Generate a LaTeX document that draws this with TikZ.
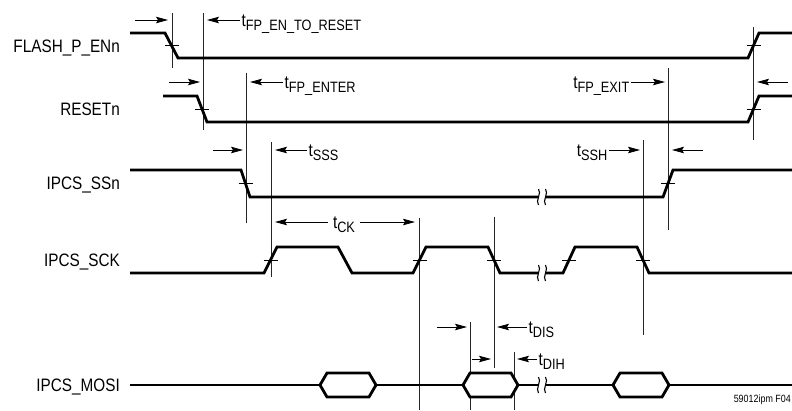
\documentclass[tikz,border=0pt]{standalone}
\usepackage{fontspec}
\setmainfont{Liberation Sans}[FakeStretch=0.85]
\usepackage{tikz}
\usetikzlibrary{arrows.meta,calc}

% t with a lowered subscript
\newcommand{\tsub}[1]{t\raisebox{-4pt}{\fontsize{15}{15}\selectfont #1}}
% hexagon data bubble on the MOSI line
\newcommand{\bubble}[3]{\draw[sig, fill=white] (#1,#3) -- (#1+7,#3-12) -- (#2-7,#3-12) -- (#2,#3) -- (#2-7,#3+12) -- (#1+7,#3+12) -- cycle;}
% break marks in a signal line
\newcommand{\sigbrk}[2]{%
  \fill[white] (#1-4,#2-3) rectangle (#1+4,#2+3);
  \draw[brk] (#1-3.5,#2-8) .. controls (#1,#2-4) and (#1-7,#2+4) .. (#1-3.5,#2+8);
  \draw[brk] (#1+3.5,#2-8) .. controls (#1+7,#2-4) and (#1,#2+4) .. (#1+3.5,#2+8);}

\begin{document}
\begin{tikzpicture}[x=1pt, y=-1pt,
    font=\fontsize{18}{18}\selectfont,
    sig/.style={line width=2.8pt, line join=miter},
    gline/.style={line width=0.8pt, black!85},
    midtick/.style={line width=0.8pt},
    brk/.style={line width=1.1pt},
    tarrow/.style={line width=0.8pt, -{Stealth[length=12pt, width=6.5pt, inset=2pt]}},
    tlbl/.style={inner xsep=1.5pt, inner ysep=0pt, text height=12pt, text depth=0pt},
    siglbl/.style={anchor=base east, inner sep=0pt}]
\useasboundingbox (0,0) rectangle (792,410);

% Signal names
\node[siglbl] (lFlash) at (120,52)  {FLASH\_P\_ENn};
\node[siglbl] (lReset) at (120,115) {RESETn};
\node[siglbl] (lSsn)   at (120,189) {IPCS\_SSn};
\node[siglbl] (lSck)   at (120,266) {IPCS\_SCK};
\node[siglbl] (lMosi)  at (120,391) {IPCS\_MOSI};

% Timing marker lines
\foreach \x/\ya/\yb in {172/13/68, 203/13/130, 246/73/223, 271/142/277,
    419/218/410, 494/217/368, 470/322/410, 514/352/410,
    643/140/335, 668/68/230, 753.5/27/140} {
    \draw[gline] (\x,\ya) -- (\x,\yb);
}

% Waveforms
\draw[sig] (130,33) -- (165,33) -- (178,58) -- (748,58) -- (759,33) -- (792,33);
\draw[sig] (163,96) -- (197,96) -- (207,122) -- (748,122) -- (759,96) -- (792,96);
\draw[sig] (130,170) -- (241,170) -- (250,197) -- (663,197) -- (673,170) -- (792,170);
\draw[sig] (130,273) -- (264,273) -- (277,247) -- (338,247) -- (352,273)
    -- (413,273) -- (426,247) -- (488,247) -- (500,273)
    -- (563,273) -- (575,247) -- (637,247) -- (649,273) -- (792,273);
\draw[sig] (130,385) -- (792,385);
\bubble{320}{376}{385}
\bubble{463}{518}{385}
\bubble{613}{669}{385}

% Breaks
\foreach \y in {197, 273, 385} {
    \sigbrk{542}{\y}
}

% Crossing ticks
\foreach \x/\y in {171.5/45.5, 753.5/45.5, 202/109, 753.5/109, 245.5/183.5, 668/183.5,
    270.5/260, 419.5/260, 494/260, 569/260, 643/260} {
    \draw[midtick] (\x-7,\y) -- (\x+7,\y);
}

% Timing labels
\node[tlbl, anchor=west] (tEnRst) at (240,20)  {\tsub{FP\_EN\_TO\_RESET}};
\node[tlbl, anchor=west] (tEnter) at (283,82)  {\tsub{FP\_ENTER}};
\node[tlbl, anchor=east] (tExit)  at (631,82)  {\tsub{FP\_EXIT}};
\node[tlbl, anchor=west] (tSss)   at (307,150) {\tsub{SSS}};
\node[tlbl, anchor=east] (tSsh)   at (609,150) {\tsub{SSH}};
\node[tlbl, inner xsep=5pt] (tCk) at (344,222) {\tsub{CK}};
\node[tlbl, anchor=west] (tDis)   at (527,327) {\tsub{DIS}};
\node[tlbl, anchor=west] (tDih)   at (537,359) {\tsub{DIH}};

% Timing arrows
\draw[tarrow] (135,20) -- (168,20);
\draw[tarrow] (tEnRst) -- (207,20);
\draw[tarrow] (169,82) -- (200,82);
\draw[tarrow] (tEnter) -- (250,82);
\draw[tarrow] (tExit) -- (665,82);
\draw[tarrow] (788,82) -- (757,82);
\draw[tarrow] (213,150) -- (243,150);
\draw[tarrow] (tSss) -- (275,150);
\draw[tarrow] (tSsh) -- (640,150);
\draw[tarrow] (703,150) -- (672,150);
\draw[tarrow] (tCk) -- (275,222);
\draw[tarrow] (tCk) -- (415,222);
\draw[tarrow] (437,327) -- (467,327);
\draw[tarrow] (tDis) -- (497,327);
\draw[tarrow] (472,359) -- (491,359);
\draw[tarrow] (tDih) -- (517,359);

% Figure tag
\node[anchor=base east, inner sep=0pt, font=\fontsize{10.5}{10.5}\selectfont] (fTag) at (791,402) {59012ipm F04};
\end{tikzpicture}
\end{document}
